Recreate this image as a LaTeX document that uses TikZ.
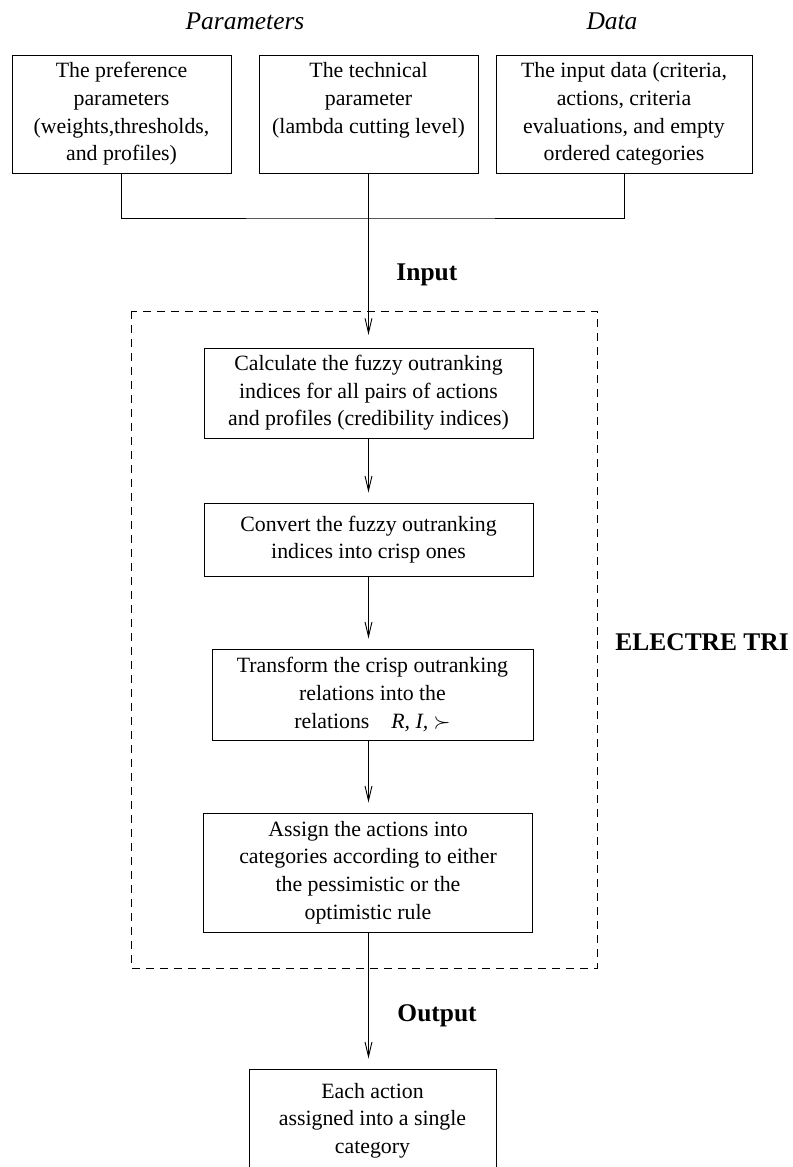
\documentclass[tikz,border=0pt]{standalone}
\usepackage{amsmath}
\usepackage{amssymb}
\usepackage{fontspec}
\setmainfont{Liberation Serif}
\usetikzlibrary{arrows.meta}

\tikzset{
  box/.style={draw,line width=0.5pt,align=center,inner sep=0pt,
    font=\fontsize{12}{15.2}\selectfont},
  head/.style={inner sep=0pt,font=\fontsize{14}{16}\selectfont\itshape},
  lbl/.style={inner sep=0pt,font=\fontsize{14}{16}\selectfont\bfseries},
}

\begin{document}
\begin{tikzpicture}[x=0.55pt,y=-0.55pt,line width=0.5pt,
  >={Straight Barb[length=8pt,width=3.8pt]}]
\useasboundingbox (0,0) rectangle (793,1167);
% headings
\node[head] (hpar) at (245,21) {Parameters};
\node[head] (hdat) at (612,21) {Data};
% input boxes
\node[box,minimum width=120.45pt,minimum height=64.9pt] (pref) at (121.5,114)
  {The preference\\parameters\\(weights,thresholds,\\and profiles)};
\node[box,minimum width=120.45pt,minimum height=64.9pt] (tech) at (368.5,114)
  {The technical\\parameter\\(lambda cutting level)\\\vphantom{)}};
\node[box,minimum width=140.8pt,minimum height=64.9pt] (idat) at (624,114)
  {The input data (criteria,\\actions, criteria\\evaluations, and empty\\ordered categories};
\coordinate (jn) at (368.5,218);
\draw (pref.south) |- (jn) -| (idat.south);
\draw (tech.south) -- (jn);
\node[lbl,anchor=west] (lin) at (396,275) {Input};
% electre tri
\draw[dash pattern=on 4.4pt off 3.3pt] (131,311) rectangle (597,968);
\node[lbl,anchor=west] (ltri) at (615,642) {ELECTRE TRI};
\node[box,minimum width=180.95pt,minimum height=49.5pt] (calc) at (368.5,393)
  {Calculate the fuzzy outranking\\indices for all pairs of actions\\and profiles (credibility indices)};
\node[box,minimum width=180.95pt,minimum height=40.15pt] (conv) at (368.5,539.5)
  {Convert the fuzzy outranking\\indices into crisp ones};
\node[box,minimum width=176.55pt,minimum height=50.05pt] (trans) at (372.5,694.5)
  {Transform the crisp outranking\\relations into the\\relations\quad \textit{R, I,} $\succ$};
\node[box,minimum width=180.95pt,minimum height=65.45pt] (asgn) at (368,872.5)
  {Assign the actions into\\categories according to either\\the pessimistic or the\\optimistic rule};
\node[lbl,anchor=west] (lout) at (397,1016) {Output};
\node[box,minimum width=135.85pt,minimum height=56.65pt] (res) at (372.5,1120.5)
  {Each action\\assigned into a single\\category};
% arrows
\draw[->,shorten >=7pt] (jn) -- (calc.north);
\draw[->,shorten >=5.5pt] (calc.south) -- (calc.south |- conv.north);
\draw[->,shorten >=5.5pt] (conv.south) -- (conv.south |- trans.north);
\draw[->,shorten >=5.5pt] (conv.south |- trans.south) -- (conv.south |- asgn.north);
\draw[->,shorten >=5.5pt] (calc.south |- asgn.south) -- (calc.south |- res.north);
\end{tikzpicture}
\end{document}
